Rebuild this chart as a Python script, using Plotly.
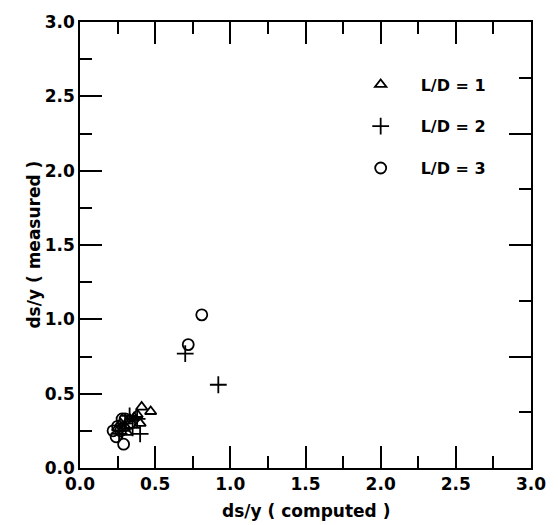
import plotly.graph_objects as go

# Scour depth ratio ds/y: computed vs measured, grouped by pier length ratio L/D
ld1_computed = [0.47, 0.41, 0.38, 0.40, 0.33, 0.36, 0.30, 0.27, 0.25, 0.31]
ld1_measured = [0.38, 0.41, 0.36, 0.30, 0.33, 0.34, 0.28, 0.30, 0.27, 0.24]

ld2_computed = [0.70, 0.92, 0.40, 0.35, 0.30, 0.28, 0.33, 0.26, 0.38]
ld2_measured = [0.77, 0.56, 0.23, 0.27, 0.30, 0.25, 0.35, 0.23, 0.33]

ld3_computed = [0.81, 0.72, 0.29, 0.24, 0.27, 0.30, 0.25, 0.33, 0.28, 0.22]
ld3_measured = [1.03, 0.83, 0.16, 0.21, 0.25, 0.33, 0.28, 0.30, 0.33, 0.25]

series_names = ["L/D = 1", "L/D = 2", "L/D = 3"]
axis_ticks = [0.0, 0.5, 1.0, 1.5, 2.0, 2.5, 3.0]
tick_text = ["0.0", "0.5", "1.0", "1.5", "2.0", "2.5", "3.0"]
right_major = [0.75, 1.5, 2.25]
right_minor = [0.375, 1.125, 1.875, 2.625]

FONT = "DejaVu Sans"
BLACK = "#000000"

fig = go.Figure()
fig.add_trace(go.Scatter(
    x=ld1_computed, y=ld1_measured, mode="markers", name=series_names[0],
    legendgroup="g1",
    marker=dict(symbol="triangle-up-open", size=10, color=BLACK, line=dict(width=1.8, color=BLACK)),
))
fig.add_trace(go.Scatter(
    x=ld2_computed, y=ld2_measured, mode="markers", name=series_names[1],
    legendgroup="g2",
    marker=dict(symbol="cross-thin-open", size=12, color=BLACK, line=dict(width=1.8, color=BLACK)),
))
fig.add_trace(go.Scatter(
    x=ld3_computed, y=ld3_measured, mode="markers", name=series_names[2],
    legendgroup="g3",
    marker=dict(symbol="circle-open", size=11, color=BLACK, line=dict(width=1.8, color=BLACK)),
))
# empty trace that carries the right-hand tick axis
fig.add_trace(go.Scatter(x=[None], y=[None], yaxis="y2", showlegend=False, hoverinfo="skip"))

tick_font = dict(family=FONT, size=17, color=BLACK, weight="bold")

fig.update_layout(
    width=558, height=525,
    margin=dict(l=80, r=15, t=19, b=57),
    paper_bgcolor="white", plot_bgcolor="white",
    showlegend=True,
    legend=dict(
        x=0.578, y=0.898, xanchor="left", yanchor="top",
        bgcolor="rgba(0,0,0,0)", borderwidth=0,
        itemwidth=70, tracegroupgap=18,
        font=dict(family=FONT, size=16, color=BLACK, weight="bold"),
    ),
    xaxis=dict(
        range=[0, 3], showgrid=False, zeroline=False,
        showline=True, linecolor=BLACK, linewidth=2, mirror="ticks",
        ticks="inside", ticklen=22, tickwidth=2, tickcolor=BLACK,
        tickvals=axis_ticks, ticktext=tick_text, tickfont=tick_font,
        ticklabeloverflow="allow",
        minor=dict(ticks="inside", ticklen=12, tickwidth=2, tickcolor=BLACK, dtick=0.25),
    ),
    yaxis=dict(
        range=[0, 3], showgrid=False, zeroline=False,
        showline=True, linecolor=BLACK, linewidth=1.5, mirror=True,
        ticks="inside", ticklen=22, tickwidth=2, tickcolor=BLACK,
        tickvals=axis_ticks, ticktext=tick_text, tickfont=tick_font,
        ticklabeloverflow="allow",
        minor=dict(ticks="inside", ticklen=12, tickwidth=2, tickcolor=BLACK, dtick=0.25),
    ),
    yaxis2=dict(
        range=[0, 3], overlaying="y", side="right", anchor="x",
        showgrid=False, zeroline=False, showline=False, showticklabels=False,
        ticks="inside", ticklen=22, tickwidth=2, tickcolor=BLACK,
        tickvals=right_major,
        minor=dict(ticks="inside", ticklen=12, tickwidth=2, tickcolor=BLACK, tickvals=right_minor),
    ),
    annotations=[
        dict(text="ds/y ( computed )", x=0.5, y=-0.097, xref="paper", yref="paper",
             xanchor="center", yanchor="middle", showarrow=False,
             font=dict(family=FONT, size=17, color=BLACK, weight="bold")),
        dict(text="ds/y ( measured )", x=-0.103, y=0.5, xref="paper", yref="paper",
             xanchor="center", yanchor="middle", showarrow=False, textangle=-90,
             font=dict(family=FONT, size=17, color=BLACK, weight="bold")),
    ],
)

fig.write_html("out.html")
